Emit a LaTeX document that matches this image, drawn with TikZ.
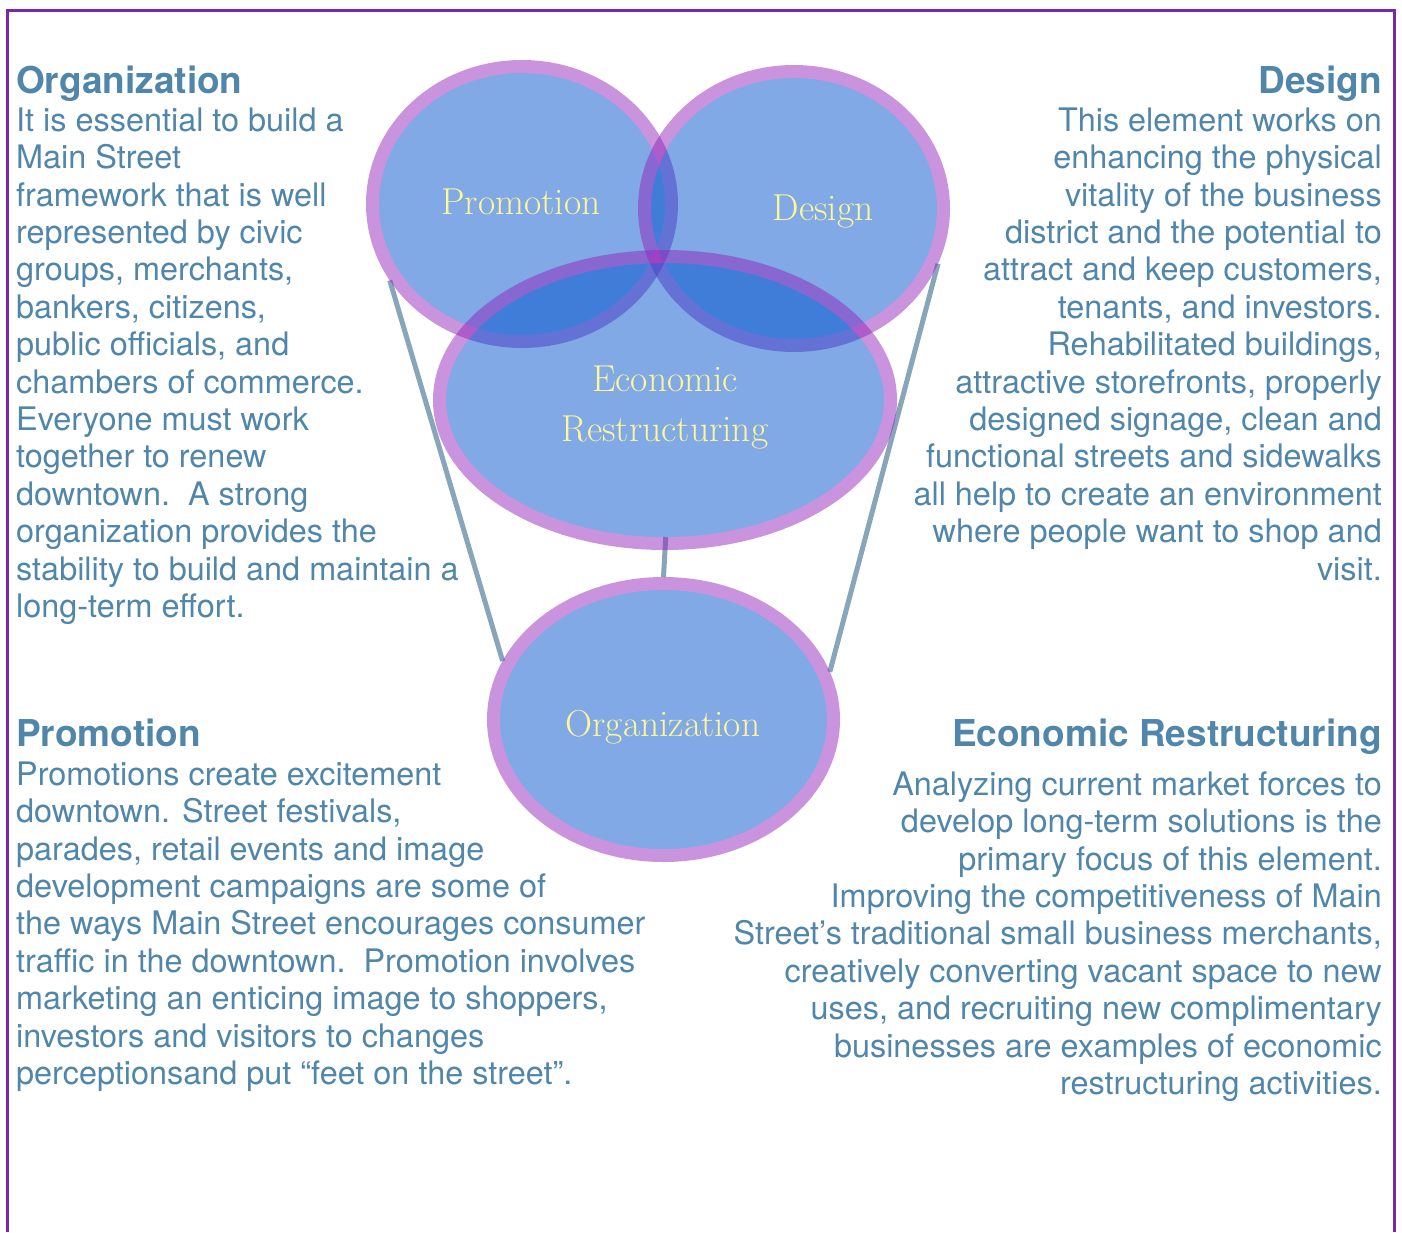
\documentclass[tikz,border=0pt]{standalone}
\usepackage{fontspec}
\setsansfont{TeX Gyre Heros}
\usetikzlibrary{shapes.geometric,backgrounds}

\definecolor{textblue}{RGB}{80,134,170}
\definecolor{framepurple}{RGB}{125,40,162}
\definecolor{vennfill}{RGB}{1,83,205}
\definecolor{vennring}{RGB}{147,39,187}
\definecolor{linkgray}{RGB}{136,165,186}
\definecolor{labelyellow}{RGB}{255,246,150}

\newcommand\topstrut{\rule{0pt}{30pt}}

\tikzset{
  venn/.style={ellipse, fill=vennfill, draw=vennring, line width=13pt, inner sep=0pt},
  vennlabel/.style={font=\fontsize{37.5}{50}\selectfont, text=labelyellow, align=center, inner sep=0pt},
  heading/.style={font=\sffamily\bfseries\fontsize{37}{40}\selectfont, text=textblue, inner sep=0pt},
  body/.style={font=\sffamily\fontsize{32.4}{37.4}\selectfont, text=textblue, inner sep=0pt},
  link/.style={draw=linkgray, line width=5pt}
}

\begin{document}
\begin{tikzpicture}[x=1pt,y=-1pt]
\def\xl{16}
\def\xr{1382}
\useasboundingbox (0,0) rectangle (1402,1232);
  \draw[framepurple, line width=3pt] (7,1232) -- (7,10) -- (1394,10) -- (1394,1232);

  \foreach \name/\x/\y/\w/\h in {promo/522/204/299/275, design/794/208.5/299/274,
                                 er/665/400/451/287, org/663.5/719.5/340/272} {
    \begin{scope}[transparency group, opacity=.5]
      \node[venn, minimum width=\w, minimum height=\h] (\name) at (\x,\y) {};
    \end{scope}
  }
  \node[vennlabel] (promolbl) at (521,202) {Promotion};
  \node[vennlabel] (designlbl) at (823,212) {Design};
  \node[vennlabel] (erlbl) at (665,408) {Economic\\Restructuring};
  \node[vennlabel] (orglbl) at (663,727) {Organization};

  \begin{scope}[on background layer]
    \draw[link] (promo.210) -- (org.160);
    \draw[link] (design.-21) -- (org.16);
    \draw[link, shorten <=-13pt] (er.south) -- (org.north);
  \end{scope}

  \node[heading, anchor=base west] (orghead) at (\xl,93) {Organization};
  \node[body, anchor=north west, align=left] (orgtext) at (\xl,101) {\topstrut It is essential to build a\\
    Main Street\\
    framework that is well\\
    represented by civic\\
    groups, merchants,\\
    bankers, citizens,\\
    public officials, and\\
    chambers of commerce.\\
    Everyone must work\\
    together to renew\\
    downtown.\ \ A strong\\
    organization provides the\\
    stability to build and maintain a\\
    long-term effort.};

  \node[heading, anchor=base east] (designhead) at (\xr,93) {Design};
  \node[body, anchor=north east, align=right] (designtext) at (\xr,101) {\topstrut This element works on\\
    enhancing the physical\\
    vitality of the business\\
    district and the potential to\\
    attract and keep customers,\\
    tenants, and investors.\\
    Rehabilitated buildings,\\
    attractive storefronts, properly\\
    designed signage, clean and\\
    functional streets and sidewalks\\
    all help to create an environment\\
    where people want to shop and\\
    visit.};

  \node[heading, anchor=base west] (promohead) at (\xl,746) {Promotion};
  \node[body, anchor=north west, align=left] (promotext) at (\xl,755) {\topstrut Promotions create excitement\\
    downtown. Street festivals,\\
    parades, retail events and image\\
    development campaigns are some of\\
    the ways Main Street encourages consumer\\
    traffic in the downtown.\ \ Promotion involves\\
    marketing an enticing image to shoppers,\\
    investors and visitors to changes\\
    perceptionsand put “feet on the street”.};

  \node[heading, anchor=base east] (erhead) at (\xr,746) {Economic Restructuring};
  \node[body, anchor=north east, align=right] (ertext) at (\xr,765) {\topstrut Analyzing current market forces to\\
    develop long-term solutions is the\\
    primary focus of this element.\\
    Improving the competitiveness of Main\\
    Street’s traditional small business merchants,\\
    creatively converting vacant space to new\\
    uses, and recruiting new complimentary\\
    businesses are examples of economic\\
    restructuring activities.};
\end{tikzpicture}
\end{document}
